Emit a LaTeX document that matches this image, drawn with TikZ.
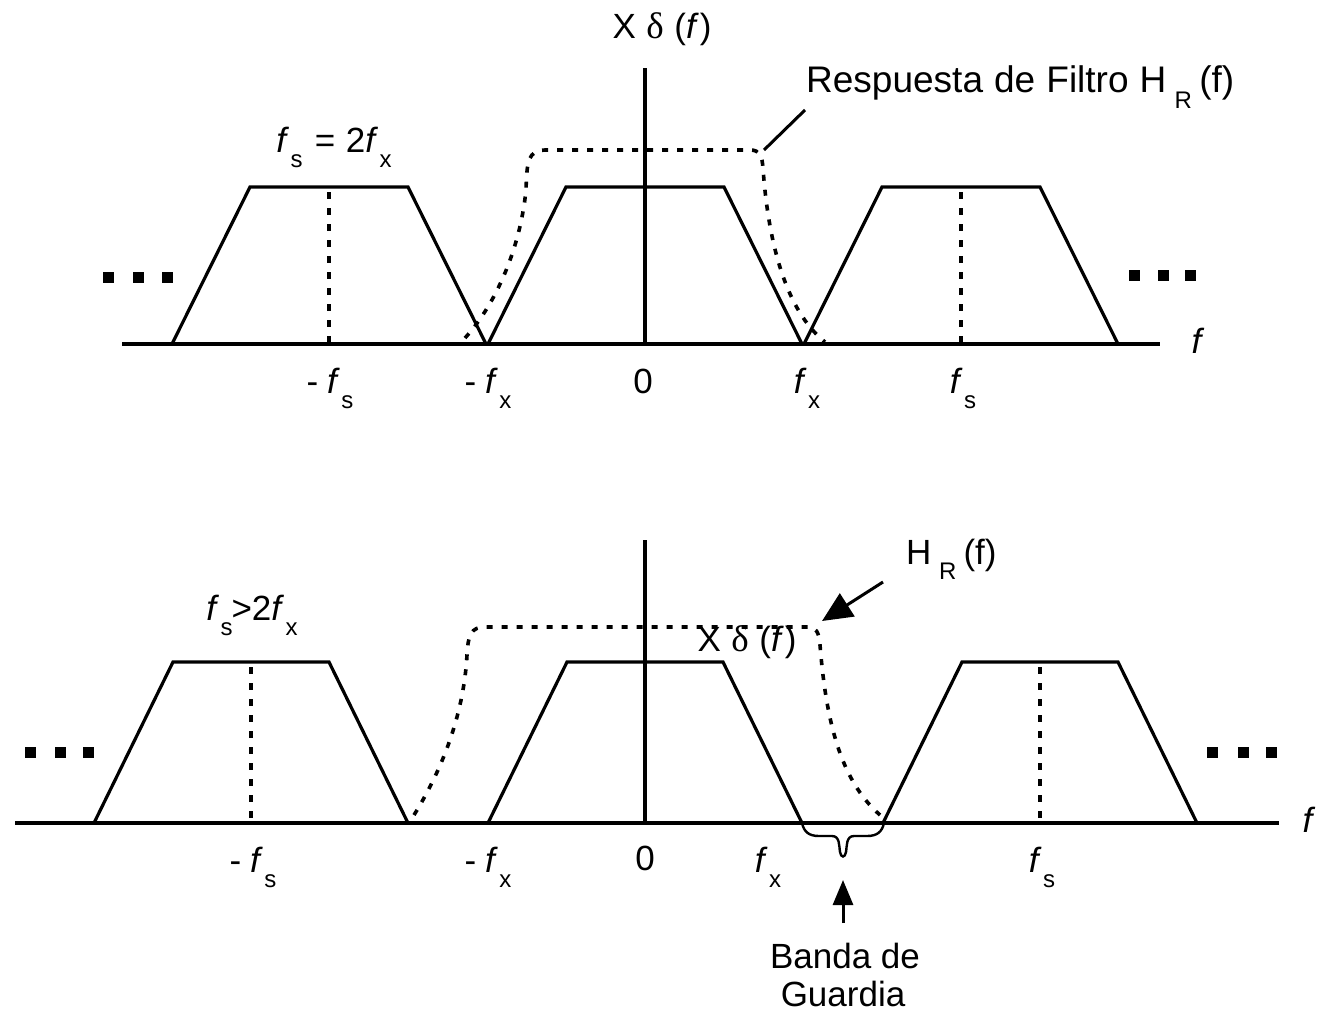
\documentclass[tikz,border=0pt]{standalone}
\usepackage{fontspec}
\setmainfont{Liberation Sans}
\newfontfamily\symfont{Liberation Serif}
\usetikzlibrary{arrows.meta}
\newcommand{\sbs}[1]{\raisebox{-0.44em}{\fontsize{24}{24}\selectfont #1}}
\newcommand{\fsub}[1]{\textit{f}\kern1.5pt\sbs{#1}}
\newcommand{\xdelta}{X\hspace{0.3em}{\fontsize{37}{40}\symfont δ}\hspace{0.3em}(\textit{f}\kern1pt)}
\begin{document}
\begin{tikzpicture}[x=1pt,y=-1pt,
  axisline/.style={line width=3.6pt},
  sig/.style={line width=3.2pt, line join=miter},
  dotv/.style={line width=3.2pt, dash pattern=on 7pt off 9pt},
  filt/.style={line width=3.6pt, dash pattern=on 6pt off 9pt},
  lead/.style={line width=3pt},
  lbl/.style={font=\fontsize{35}{40}\selectfont, inner sep=0pt},
  dotsq/.style={fill=black, minimum size=11pt, inner sep=0pt}
]
\useasboundingbox (0,0) rectangle (1321,1015);

% ---------------- top panel ----------------
\coordinate (ta0) at (122,344);
\coordinate (ta1) at (1160,344);
\draw[axisline] (ta0) -- (ta1);
\coordinate (tv0) at (645,68);
\coordinate (tv1) at (645,344);
\draw[axisline] (tv0) -- (tv1);

\foreach \c in {329,645,961}{
  \draw[sig] (\c-157,344) -- (\c-79,187) -- (\c+79,187) -- (\c+157,344);
}
\foreach \c in {329,961}{
  \draw[dotv] (\c,192) -- (\c,342);
}

\draw[filt] (465,338) .. controls (495,305) and (520,250) .. (526,190)
  .. controls (527,160) and (528,151) .. (545,150) -- (750,150)
  .. controls (760,150) and (762,156) .. (763,168)
  .. controls (768,240) and (785,310) .. (825,342);

\coordinate (tl1) at (805,110);
\coordinate (tl0) at (764,150);
\draw[lead] (tl1) -- (tl0);

\node[lbl, font=\fontsize{37}{42}\selectfont, anchor=base west] (resp) at (806,92) {Respuesta\hspace{0.3em}de\hspace{0.3em}Filtro\hspace{0.3em}H\hspace{0.22em}\sbs{R}\hspace{0.2em}(f)};
\node[lbl, anchor=base] (xdt) at (662,38) {\xdelta};
\node[lbl, anchor=base] (eqt) at (334,152) {\fsub{s}\hspace{0.35em}=\hspace{0.3em}2\fsub{x}};

\node[dotsq] (tdl1) at (108,277) {};
\node[dotsq] (tdl2) at (138,277) {};
\node[dotsq] (tdl3) at (167,277) {};
\node[dotsq] (tdr1) at (1134,275) {};
\node[dotsq] (tdr2) at (1163,275) {};
\node[dotsq] (tdr3) at (1190,275) {};

\node[lbl, anchor=base] (tf) at (1198,353) {\textit{f}};
\node[lbl, anchor=base] (tmfs) at (330,393) {-\hspace{0.25em}\fsub{s}};
\node[lbl, anchor=base] (tmfx) at (488,393) {-\hspace{0.25em}\fsub{x}};
\node[lbl, anchor=base] (t0) at (643,393) {0};
\node[lbl, anchor=base] (tfx) at (807,393) {\fsub{x}};
\node[lbl, anchor=base] (tfs) at (963,393) {\fsub{s}};

% ---------------- bottom panel ----------------
\coordinate (ba0) at (15,823);
\coordinate (ba1) at (1279,823);
\draw[axisline] (ba0) -- (ba1);
\coordinate (bv0) at (645,540);
\coordinate (bv1) at (645,823);
\draw[axisline] (bv0) -- (bv1);

\foreach \c in {251,645,1040}{
  \draw[sig] (\c-157,823) -- (\c-78,662) -- (\c+78,662) -- (\c+157,823);
}
\foreach \c in {251,1040}{
  \draw[dotv] (\c,667) -- (\c,821);
}

\draw[filt] (414,815) .. controls (445,765) and (464,710) .. (467,655)
  .. controls (468,635) and (471,627) .. (485,627) -- (808,627)
  .. controls (816,627) and (819,632) .. (820,645)
  .. controls (826,720) and (840,780) .. (880,815);

\coordinate (ha1) at (883,582);
\coordinate (ha0) at (822,621);
\draw[lead, -{Triangle[length=30pt,width=27pt]}] (ha1) -- (ha0);
\node[lbl, anchor=base west] (hr) at (906,564) {H\hspace{0.22em}\sbs{R}\hspace{0.2em}(f)};
\node[lbl, anchor=base] (xdb) at (747,651) {\xdelta};
\node[lbl, anchor=base] (eqb) at (252,620) {\fsub{s}\kern-1pt>2\fsub{x}};

\node[dotsq] (bdl1) at (30,752) {};
\node[dotsq] (bdl2) at (60,752) {};
\node[dotsq] (bdl3) at (88,752) {};
\node[dotsq] (bdr1) at (1212,752) {};
\node[dotsq] (bdr2) at (1243,752) {};
\node[dotsq] (bdr3) at (1271,752) {};

\node[lbl, anchor=base] (bf) at (1309,832) {\textit{f}};
\node[lbl, anchor=base] (bmfs) at (253,872) {-\hspace{0.25em}\fsub{s}};
\node[lbl, anchor=base] (bmfx) at (488,872) {-\hspace{0.25em}\fsub{x}};
\node[lbl, anchor=base] (b0) at (645,870) {0};
\node[lbl, anchor=base] (bfx) at (768,872) {\fsub{x}};
\node[lbl, anchor=base] (bfs) at (1042,872) {\fsub{s}};

% guard band brace
\coordinate (gbl) at (802,823);
\coordinate (gbr) at (884,823);
\draw[line width=2.4pt] (gbl) .. controls (804,832) and (809,836) .. (819,836) -- (832,836)
  .. controls (840,836) and (839,846) .. (840,852) .. controls (841,858) and (845,858) .. (846,852)
  .. controls (847,846) and (846,836) .. (854,836) -- (867,836)
  .. controls (877,836) and (882,832) .. (gbr);

\node[lbl, anchor=base] (band1) at (845,968) {Banda de};
\node[lbl, anchor=base] (band2) at (843,1006) {Guardia};
\coordinate (ga0) at (843,923);
\coordinate (ga1) at (843,880);
\draw[lead, -{Triangle[length=25pt,width=20pt]}] (ga0) -- (ga1);
\end{tikzpicture}
\end{document}
